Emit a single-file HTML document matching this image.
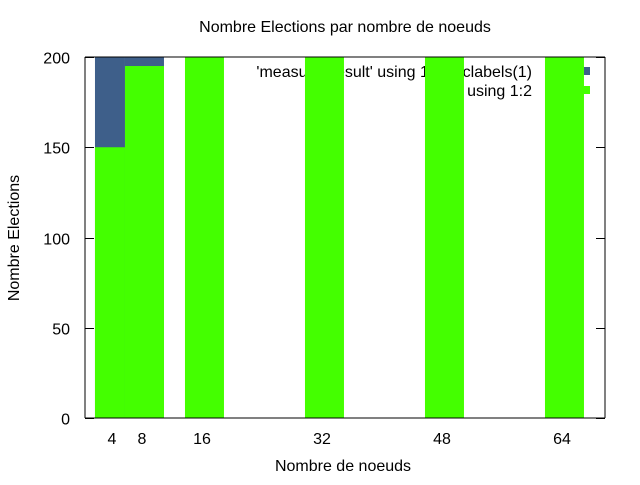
<!DOCTYPE html>
<html><head><meta charset="utf-8"><style>
html,body{margin:0;padding:0;background:#fff;}
svg text{font-family:"Liberation Sans",sans-serif;font-size:16px;fill:#000;}
</style></head><body>
<svg id="chart" width="640" height="480">
<text x="345" y="32" text-anchor="middle">Nombre Elections par nombre de noeuds</text>
<text x="343" y="471" text-anchor="middle">Nombre de noeuds</text>
<text transform="translate(19,238) rotate(-90)" text-anchor="middle">Nombre Elections</text>
<g id="legend">
<text x="532" y="77" text-anchor="end">'measure_result' using 1:2:xticlabels(1)</text>
<rect x="584" y="67" width="6" height="8" fill="#3e5f8a"/>
<text x="532" y="96" text-anchor="end">using 1:2</text>
<rect x="545" y="86" width="45" height="8" fill="#44ff00"/>
</g>
<g id="bars"></g>
<g id="axes"></g>
</svg>
<script>
const categories = [4, 8, 16, 32, 48, 64];
const blueValues = [230, 230];
const blueX = [4, 8];
const greenValues = [150, 195, 230, 230, 230, 230];
const yTicks = [0, 50, 100, 150, 200];

const L = 85, R = 605, T = 57, B = 418;
const xs = v => 82 + 7.5 * v;
const ys = v => B - (B - T) * v / 200;
const NS = "http://www.w3.org/2000/svg";
const bars = document.getElementById('bars');
const axes = document.getElementById('axes');

function boxEdges(xv, i, arr) {
  const left = xv - 2.27;
  let right = xv + 2.93;
  if (i + 1 < arr.length) right = Math.min(right, arr[i + 1] - 2.27);
  return [left, right];
}
function drawBar(xv, i, arr, val, color, name) {
  const [l, r] = boxEdges(xv, i, arr);
  const top = Math.max(ys(val), T);
  const rc = document.createElementNS(NS, 'rect');
  rc.setAttribute('x', xs(l));
  rc.setAttribute('y', top);
  rc.setAttribute('width', xs(r) - xs(l));
  rc.setAttribute('height', B - top);
  rc.setAttribute('fill', color);
  
  
  bars.appendChild(rc);
}
blueX.forEach((x, i) => drawBar(x, i, blueX, blueValues[i], '#3e5f8a', 'bar-blue-' + x));
categories.forEach((x, i) => drawBar(x, i, categories, greenValues[i], '#44ff00', 'bar-green-' + x));

function line(x1, y1, x2, y2, name) {
  const ln = document.createElementNS(NS, 'line');
  ln.setAttribute('x1', x1); ln.setAttribute('y1', y1);
  ln.setAttribute('x2', x2); ln.setAttribute('y2', y2);
  ln.setAttribute('stroke', '#000'); ln.setAttribute('stroke-width', '1');
  
  
  axes.appendChild(ln);
}
line(L, T, R, T, 'frame-top');
line(L, B, R, B, 'x-axis');
line(L, T, L, B, 'y-axis');
line(R, T, R, B, 'frame-right');
yTicks.forEach(v => {
  const y = Math.round(ys(v)) + 0.5;
  line(L, y, L + 9, y, 'y-tick');
  line(R - 9, y, R, y, 'y-tick-right');
  const t = document.createElementNS(NS, 'text');
  t.setAttribute('x', 70); t.setAttribute('y', y + 6);
  t.setAttribute('text-anchor', 'end');
  t.textContent = v;
  
  
  axes.appendChild(t);
});
categories.forEach(v => {
  const t = document.createElementNS(NS, 'text');
  t.setAttribute('x', xs(v)); t.setAttribute('y', 444);
  t.setAttribute('text-anchor', 'middle');
  t.textContent = v;
  
  
  axes.appendChild(t);
});
</script>
</body></html>
